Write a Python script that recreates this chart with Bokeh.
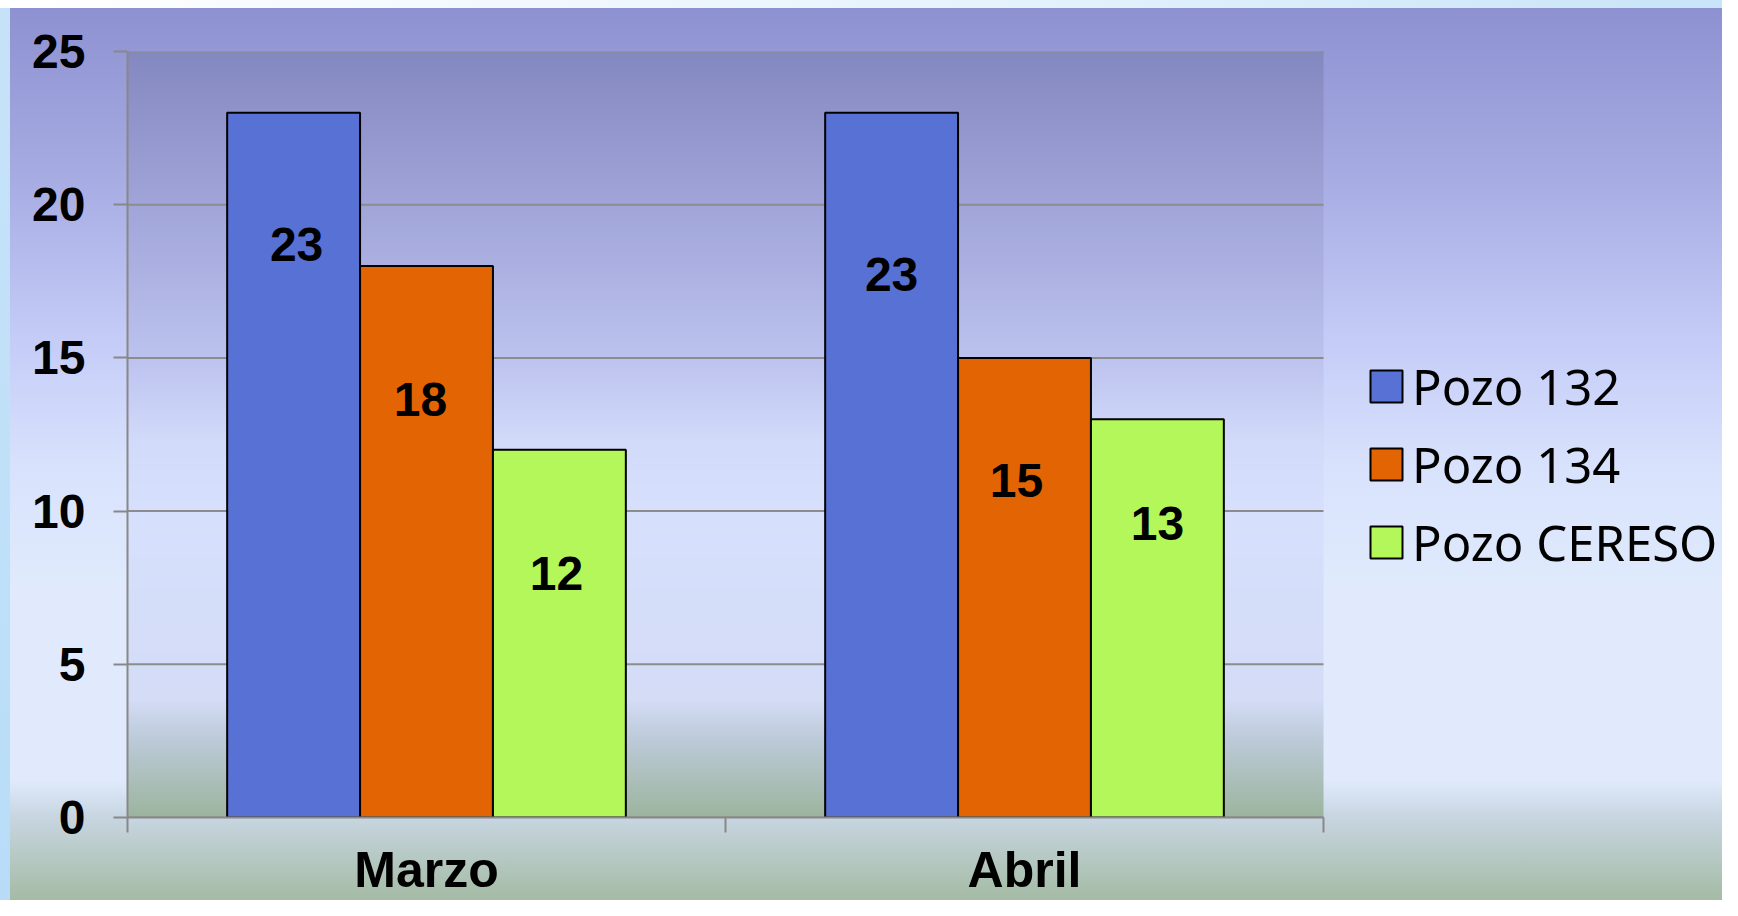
import numpy as np
from bokeh.plotting import figure
from bokeh.models import ColumnDataSource, Range1d, FixedTicker, Legend, LegendItem
from bokeh.core.properties import value
from bokeh.embed import file_html
from bokeh.resources import INLINE

# ---- data ----
months = ["Marzo", "Abril"]
series_names = ["Pozo 132", "Pozo 134", "Pozo CERESO"]
pozo_132 = [23, 23]
pozo_134 = [18, 15]
pozo_cereso = [12, 13]
y_ticks = [0, 5, 10, 15, 20, 25]

# ---- styles ----
series_values = [pozo_132, pozo_134, pozo_cereso]
colors = ["#5871D5", "#E36403", "#B3F75A"]
label_dy = [[132, 162], [134, 123], [124, 104]]  # label pixel offsets below bar top
label_dx = [[3, 0], [-6, -8], [-3, 0]]
BAR_W = 1 / 4.5
centers = np.arange(len(months)) + 0.5
NUM_FONT = "Liberation Sans"

W, H = 1722, 900
LEFT, TOP, BOTTOM = 127, 51, 83
PLOT_PX = 1196                      # pixel width of the category area
n_cat = len(months)
x_end = n_cat * (W - LEFT) / PLOT_PX  # frame extends under the legend area

outer_css = ("linear-gradient(to bottom, #8C90D0 0%, #A6ABE2 19.4%, #C6CEF8 38.9%, "
             "#D8E2FC 51.9%, #E0EAFC 64.9%, #E0EAFC 86.7%, #C8D6E2 90.6%, #A4BBA4 100%)")
left_css = "linear-gradient(to bottom, #C6E2F8, #BFE0F8 60%, #B8DCF8) 0 0 / 10px 100% no-repeat"
top_css = "linear-gradient(to right, #FFFFFF, #E4F2FC 60%, #C8E4F8) 0 0 / 100% 8px no-repeat"

p = figure(width=W, height=H, output_backend="svg", toolbar_location=None,
           x_range=Range1d(0, x_end), y_range=Range1d(0, 25),
           min_border_left=LEFT, min_border_right=0, min_border_top=TOP, min_border_bottom=BOTTOM,
           border_fill_color=None, background_fill_color=None, outline_line_color=None,
           styles={"background": f"{top_css}, {left_css}, {outer_css}"})

# plot-area gradient
stops_pos = [0, 0.198, 0.398, 0.508, 0.598, 0.847, 0.899, 1.0]
stops_col = ["#8488C0", "#A0A4D8", "#BCC2EE", "#D2DAFA", "#D6E0FC", "#D4DCF6", "#BCCAD8", "#9CB49E"]
N = 766
t = np.linspace(0, 1, N)
rgb = np.array([[int(c[k:k + 2], 16) for k in (1, 3, 5)] for c in stops_col], dtype=float)
img = np.empty((N, 2), dtype=np.uint32)
view = img.view(dtype=np.uint8).reshape((N, 2, 4))
for ch in range(3):
    col = np.interp(t, stops_pos, rgb[:, ch])[::-1]
    view[:, :, ch] = np.round(col).astype(np.uint8)[:, None]
view[:, :, 3] = 255
p.image_rgba(image=[img], x=0, y=0, dw=n_cat, dh=25, level="image")

# horizontal grid lines limited to the category area
p.segment(x0=0, x1=n_cat, y0=y_ticks, y1=y_ticks, line_color="#8C8C8C", line_width=2, level="underlay")

renderers = []
for i, (name, vals, colr, dy, dx) in enumerate(zip(series_names, series_values, colors, label_dy, label_dx)):
    off = (i - 1) * BAR_W
    src = ColumnDataSource(dict(x=centers + off, top=vals, lab=[str(v) for v in vals], dy=dy, dx=dx))
    r = p.vbar(x="x", top="top", bottom=0, width=BAR_W, source=src,
               fill_color=colr, line_color="black", line_width=2)
    p.text(x="x", y="top", text="lab", x_offset="dx", y_offset="dy", source=src,
           text_font=value(NUM_FONT), text_font_style="bold", text_font_size="48px",
           text_align="center", text_baseline="middle", text_color="black")
    renderers.append(r)

# x axis
p.xaxis.bounds = (0, n_cat)
p.xaxis.ticker = FixedTicker(ticks=list(centers), minor_ticks=list(range(n_cat + 1)))
p.xaxis.major_label_overrides = {float(c): m for c, m in zip(centers, months)}
p.xaxis.axis_line_color = "#888888"
p.xaxis.axis_line_width = 2
p.xaxis.major_tick_out = 0
p.xaxis.major_tick_in = 0
p.xaxis.major_tick_line_color = None
p.xaxis.minor_tick_out = 15
p.xaxis.minor_tick_in = 0
p.xaxis.minor_tick_line_color = "#888888"
p.xaxis.minor_tick_line_width = 2
p.xaxis.major_label_text_font = NUM_FONT
p.xaxis.major_label_text_font_style = "bold"
p.xaxis.major_label_text_font_size = "50px"
p.xaxis.major_label_text_color = "black"
p.xaxis.major_label_standoff = 9

# y axis
p.yaxis.ticker = FixedTicker(ticks=y_ticks)
p.yaxis.axis_line_color = "#888888"
p.yaxis.axis_line_width = 2
p.yaxis.major_tick_out = 14
p.yaxis.major_tick_in = 0
p.yaxis.major_tick_line_color = "#888888"
p.yaxis.major_tick_line_width = 2
p.yaxis.minor_tick_line_color = None
p.yaxis.major_label_text_font = NUM_FONT
p.yaxis.major_label_text_font_style = "bold"
p.yaxis.major_label_text_font_size = "48px"
p.yaxis.major_label_text_color = "black"
p.yaxis.major_label_standoff = 28

p.xgrid.grid_line_color = None
p.ygrid.grid_line_color = None

legend = Legend(items=[LegendItem(label=n, renderers=[r]) for n, r in zip(series_names, renderers)],
                location=(1239, 242), orientation="vertical",
                label_text_font="Noto Sans", label_text_font_size="49px", label_text_color="black",
                glyph_width=40, glyph_height=40, label_standoff=6, spacing=12,
                padding=0, margin=0, border_line_color=None,
                background_fill_color=None, background_fill_alpha=0)
p.add_layout(legend, "center")

open("out.html", "w").write(file_html(p, INLINE))
